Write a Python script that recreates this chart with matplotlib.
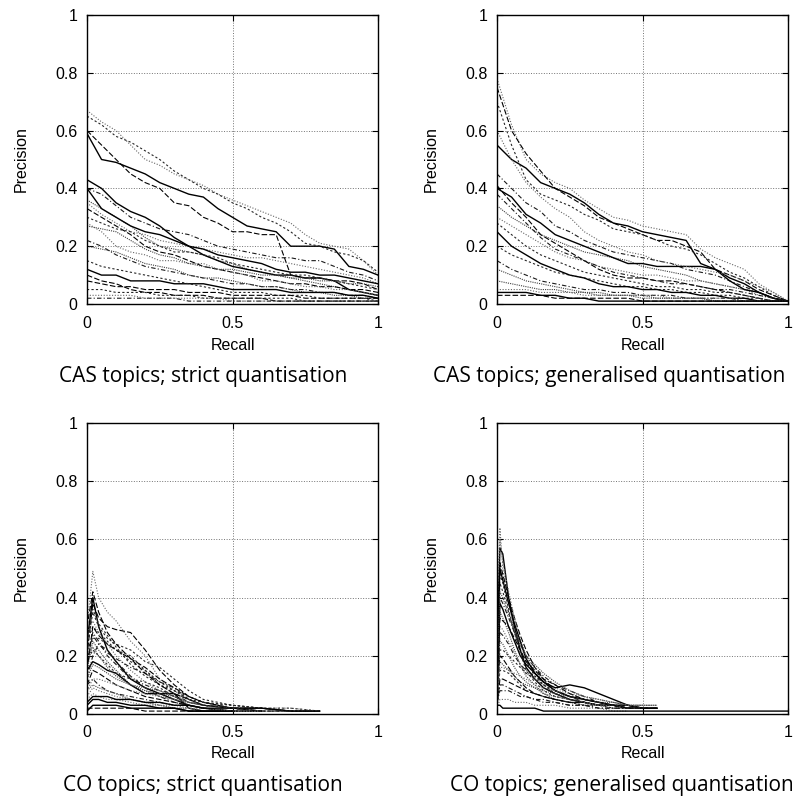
import numpy as np
import matplotlib
matplotlib.use("Agg")
import matplotlib.pyplot as plt

nan = np.nan

# Recall grids (one per panel)
cas_recall = [0, .05, .10, .15, .20, .25, .30, .35, .40, .45, .50,
              .55, .60, .65, .70, .75, .80, .85, .90, .95, 1.0]
co_strict_recall = [0, .02, .04, .07, .10, .15, .20, .25, .30, .35, .40, .50, .60, .70, .80]
co_gen_recall = [0, .01, .02, .04, .06, .08, .10, .13, .16, .20, .25, .30, .35, .40, .45, .50, .55, 1.0]

# CAS topics; strict quantisation
cas_strict_prec = [
    [.67, .63, .60, .55, .50, .48, .45, .43, .41, .38, .36, .34, .32, .30, .28, .24, .21, .20, .19, .15, .10],
    [.59, .50, .49, .47, .45, .42, .40, .38, .37, .33, .30, .27, .26, .25, .20, .20, .20, .19, .13, .12, .10],
    [.60, .55, .50, .45, .42, .40, .35, .34, .30, .28, .25, .25, .24, .24, .10, .09, .09, .08, .08, .07, .05],
    [.65, .62, .58, .56, .53, .50, .46, .43, .40, .38, .35, .33, .30, .28, .25, .21, .20, .18, .17, .15, .11],
    [.40, .38, .34, .30, .28, .26, .25, .24, .22, .20, .19, .18, .17, .16, .16, .15, .15, .13, .11, .10, .08],
    [.36, .33, .30, .27, .23, .20, .19, .18, .17, .15, .14, .12, .11, .10, .09, .08, .07, .06, .05, .04, .03],
    [.35, .31, .28, .25, .24, .22, .21, .20, .19, .18, .17, .16, .16, .15, .14, .13, .12, .11, .10, .09, .07],
    [.40, .33, .30, .27, .25, .24, .22, .20, .17, .15, .13, .12, .11, .10, .10, .09, .09, .08, .05, .04, .03],
    [.33, .30, .27, .24, .20, .18, .17, .15, .13, .12, .11, .10, .09, .08, .07, .07, .06, .06, .05, .05, .04],
    [.30, .28, .26, .25, .22, .20, .18, .18, .17, .16, .14, .13, .12, .11, .10, .10, .09, .08, .07, .06, .05],
    [.22, .20, .17, .15, .13, .12, .11, .10, .09, .08, .07, .07, .06, .06, .05, .05, .04, .04, .03, .03, .02],
    [.20, .19, .18, .16, .14, .13, .12, .10, .09, .09, .08, .07, .06, .06, .05, .04, .04, .03, .03, .02, .02],
    [.28, .25, .20, .18, .17, .15, .15, .14, .14, .12, .11, .10, .08, .08, .07, .06, .06, .05, .05, .04, .03],
    [.12, .10, .10, .08, .08, .08, .07, .07, .07, .06, .05, .05, .05, .05, .04, .04, .04, .04, .03, .03, .02],
    [.10, .08, .07, .05, .04, .04, .03, .03, .03, .02, .02, .02, .02, .01, .01, .01, .01, .01, .01, .01, .01],
    [.15, .13, .12, .11, .10, .09, .08, .07, .06, .05, .04, .04, .04, .03, .03, .03, .02, .02, .02, .02, .01],
    [.02, .02, .02, .02, .02, .02, .02, .01, .01, .01, .01, .01, .01, .01, .01, .01, .01, .01, .01, .01, .01],
    [.27, .26, .25, .22, .19, .17, .16, .14, .13, .12, .12, .11, .10, .10, .09, .09, .08, .08, .07, .07, .06],
    [.03, .03, .03, .03, .02, .02, .02, .02, .02, .02, .01, .01, .01, .01, .01, .01, .01, .01, .01, .01, .01],
    [.43, .40, .35, .32, .30, .27, .23, .20, .19, .17, .16, .15, .14, .12, .11, .11, .10, .10, .09, .08, .07],
    [.08, .07, .06, .06, .05, .05, .05, .04, .04, .04, .03, .03, .03, .03, .03, .02, .02, .02, .02, .02, .02],
    [.05, .05, .04, .04, .04, .03, .03, .03, .02, .02, .02, .02, .02, .02, .02, .01, .01, .01, .01, .01, .01],
]

# CAS topics; generalised quantisation
cas_gen_prec = [
    [.78, .62, .50, .45, .42, .40, .36, .33, .30, .29, .27, .26, .25, .24, .19, .16, .14, .12, .07, .04, .01],
    [.55, .50, .47, .42, .40, .38, .35, .31, .28, .27, .25, .24, .23, .22, .14, .12, .09, .07, .04, .02, .01],
    [.75, .60, .52, .46, .40, .37, .34, .30, .28, .26, .24, .22, .22, .20, .18, .12, .10, .08, .05, .03, .01],
    [.70, .55, .43, .38, .36, .34, .31, .29, .26, .25, .24, .22, .20, .19, .17, .14, .11, .09, .06, .03, .01],
    [.45, .40, .35, .32, .27, .25, .22, .20, .18, .17, .16, .15, .14, .12, .11, .10, .08, .06, .04, .02, .01],
    [.34, .30, .27, .24, .22, .20, .18, .17, .16, .15, .13, .12, .11, .10, .08, .07, .06, .05, .04, .02, .01],
    [.30, .27, .24, .21, .18, .16, .15, .13, .12, .11, .10, .10, .09, .08, .08, .07, .06, .05, .03, .02, .01],
    [.40, .37, .31, .28, .24, .22, .20, .18, .16, .14, .14, .13, .13, .13, .13, .12, .08, .05, .04, .02, .01],
    [.41, .35, .30, .24, .21, .18, .15, .12, .10, .09, .09, .08, .08, .07, .06, .05, .04, .03, .02, .01, .01],
    [.20, .17, .15, .13, .11, .10, .09, .08, .07, .06, .06, .05, .05, .04, .04, .03, .03, .02, .02, .01, .01],
    [.38, .33, .28, .23, .19, .17, .15, .13, .11, .10, .09, .08, .07, .07, .06, .05, .05, .04, .03, .02, .01],
    [.12, .10, .08, .07, .06, .05, .04, .04, .03, .03, .03, .02, .02, .02, .02, .01, .01, .01, .01, .01, .01],
    [.60, .50, .42, .37, .33, .30, .25, .22, .20, .18, .17, .15, .14, .13, .12, .11, .10, .08, .06, .04, .01],
    [.25, .20, .17, .14, .12, .10, .09, .07, .06, .06, .05, .05, .04, .04, .03, .03, .02, .02, .01, .01, .01],
    [.03, .03, .03, .03, .02, .02, .02, .02, .02, .02, .01, .01, .01, .01, .01, .01, .01, .01, .01, .01, .01],
    [.28, .24, .20, .17, .15, .13, .11, .10, .09, .08, .07, .06, .06, .05, .05, .04, .04, .03, .02, .01, .01],
    [.15, .12, .10, .08, .07, .06, .05, .05, .04, .04, .03, .03, .03, .02, .02, .02, .02, .01, .01, .01, .01],
    [.08, .07, .06, .05, .05, .04, .04, .03, .03, .03, .02, .02, .02, .02, .02, .01, .01, .01, .01, .01, .01],
    [.05, .05, .05, .04, .04, .04, .03, .03, .03, .03, .03, .03, .02, .02, .02, .02, .02, .01, .01, .01, .01],
    [.04, .04, .04, .03, .03, .02, .02, .01, .01, .01, .01, .01, .01, .01, .01, .01, .01, .01, .01, .01, .01],
]

# CO topics; strict quantisation
co_strict_prec = [
    [.30, .49, .40, .35, .32, .25, .20, .12, .08, .05, .03, .02, .01, .01, nan],
    [.25, .40, .30, .22, .18, .12, .09, .07, .05, .03, .02, .01, .01, nan, nan],
    [.20, .38, .33, .30, .29, .28, .22, .15, .10, .06, .04, .02, .01, .01, .01],
    [.25, .30, .28, .25, .22, .18, .15, .10, .08, .06, .04, .03, .02, .01, .01],
    [.20, .28, .25, .20, .17, .12, .10, .08, .07, .04, .03, .02, nan, nan, nan],
    [.15, .25, .22, .18, .15, .10, .08, .06, .05, .04, .03, .02, .01, nan, nan],
    [.28, .32, .28, .24, .20, .15, .11, .08, .06, .04, .03, .02, .01, .01, nan],
    [.15, .18, .17, .15, .14, .10, .07, .07, .07, .02, .01, .01, nan, nan, nan],
    [.10, .15, .14, .12, .10, .08, .06, .05, .04, .03, .02, .01, .01, nan, nan],
    [.22, .35, .30, .26, .24, .22, .18, .16, .12, .08, .05, .03, .02, .01, .01],
    [.10, .12, .10, .08, .07, .06, .05, .04, .03, .03, .02, .01, nan, nan, nan],
    [.08, .10, .09, .08, .07, .05, .04, .03, .02, .02, .01, nan, nan, nan, nan],
    [.05, .07, .06, .05, .05, .04, .03, .03, .02, .02, .01, .01, .01, nan, nan],
    [.03, .05, .05, .04, .04, .03, .03, .02, .02, .01, .01, .01, nan, nan, nan],
    [.02, .02, .02, .02, .02, .02, .01, .01, .01, .01, .01, nan, nan, nan, nan],
    [.18, .22, .20, .17, .14, .12, .11, .09, .06, .04, .03, .02, .01, nan, nan],
    [.12, .20, .24, .22, .18, .13, .09, .06, .04, .03, .02, .01, .01, nan, nan],
    [.20, .23, .20, .16, .13, .10, .09, .08, .06, .03, .02, .01, nan, nan, nan],
    [.06, .09, .08, .07, .06, .05, .04, .03, .03, .02, .02, .01, .01, .01, nan],
    [.01, .03, .03, .03, .03, .02, .02, .02, .02, .01, .01, .01, nan, nan, nan],
    [.15, .30, .27, .24, .22, .19, .16, .12, .09, .06, .04, .02, .02, .01, .01],
    [.25, .36, .31, .27, .23, .17, .13, .10, .07, .05, .04, .03, .02, .02, .01],
    [.18, .27, .24, .21, .19, .16, .14, .11, .09, .05, .03, .02, .02, .01, nan],
    [.12, .17, .16, .14, .12, .10, .08, .07, .06, .04, .03, .02, .02, .01, .01],
    [.08, .12, .12, .11, .10, .08, .07, .06, .05, .04, .03, .02, .02, .02, .01],
    [.04, .06, .06, .06, .05, .05, .04, .04, .03, .03, .02, .02, .02, .01, .01],
    [.30, .42, .35, .28, .24, .19, .14, .10, .07, .05, .03, .02, .01, nan, nan],
    [.22, .26, .26, .24, .22, .20, .15, .11, .08, .05, .03, .02, .01, .01, nan],
]

# CO topics; generalised quantisation
co_gen_prec = [
    [.30, .64, .50, .38, .30, .24, .19, .14, .10, .07, .05, .04, .03, .03, .02, .02, nan, nan],
    [.20, .57, .55, .40, .30, .22, .16, .12, .09, .07, .05, .04, .03, .03, .02, .02, .02, nan],
    [.25, .52, .48, .40, .33, .27, .22, .16, .12, .08, .06, .04, .03, .03, .02, .02, nan, nan],
    [.15, .45, .42, .35, .28, .22, .18, .13, .10, .07, .05, .04, .03, .03, .02, .02, .02, nan],
    [.10, .40, .38, .33, .28, .24, .20, .16, .13, .10, .08, .06, .04, .03, .03, .02, nan, nan],
    [.12, .35, .33, .28, .22, .17, .13, .10, .07, .05, .04, .03, .03, .02, .02, .02, nan, nan],
    [.08, .30, .29, .25, .21, .17, .14, .12, .10, .09, .07, .05, .04, .03, .03, .02, nan, nan],
    [.03, .38, .36, .30, .25, .20, .17, .14, .11, .09, .10, .09, .07, .05, .03, .02, nan, nan],
    [.06, .20, .19, .16, .13, .11, .09, .07, .06, .05, .04, .04, .03, .03, .02, .02, .02, nan],
    [.04, .15, .15, .14, .12, .10, .08, .07, .06, .05, .04, .03, .03, .02, .02, nan, nan, nan],
    [.03, .10, .10, .09, .08, .07, .06, .05, .04, .04, .03, .03, .02, .02, .02, nan, nan, nan],
    [.05, .25, .24, .20, .16, .13, .11, .09, .07, .06, .05, .04, .03, .03, .02, .02, nan, nan],
    [.02, .05, .05, .05, .04, .04, .04, .03, .03, .03, .02, .02, .02, .01, .01, nan, nan, nan],
    [.03, .03, .02, .02, .02, .02, .02, .02, .01, .01, .01, .01, .01, .01, .01, .01, .01, .01],
    [.02, .12, .12, .11, .10, .09, .08, .07, .06, .05, .04, .04, .03, .03, .02, .02, .02, nan],
    [.05, .48, .45, .36, .28, .21, .15, .11, .08, .06, .05, .04, .03, .03, .02, .02, nan, nan],
    [.04, .28, .27, .24, .20, .17, .15, .13, .11, .08, .06, .05, .04, .03, .02, .02, nan, nan],
    [.06, .18, .17, .15, .13, .11, .10, .09, .08, .07, .06, .05, .04, .04, .03, .03, .03, nan],
    [.35, .60, .52, .42, .33, .26, .20, .15, .11, .08, .06, .04, .03, .03, .02, .02, nan, nan],
    [.20, .50, .46, .38, .31, .25, .19, .14, .11, .08, .06, .05, .04, .03, .03, .02, .02, nan],
    [.10, .33, .32, .30, .26, .22, .18, .15, .12, .10, .07, .05, .04, .03, .02, .02, nan, nan],
    [.08, .22, .22, .20, .18, .16, .14, .12, .10, .08, .06, .05, .04, .03, .03, .02, nan, nan],
    [.04, .08, .08, .08, .07, .06, .06, .05, .05, .04, .03, .03, .02, .02, .02, .02, nan, nan],
    [.15, .42, .40, .34, .29, .24, .20, .17, .14, .11, .08, .06, .05, .04, .03, .03, .03, nan],
    [.05, .16, .16, .15, .14, .13, .12, .10, .09, .08, .07, .06, .05, .04, .03, .03, nan, nan],
]

captions = ["CAS topics; strict quantisation", "CAS topics; generalised quantisation",
            "CO topics; strict quantisation", "CO topics; generalised quantisation"]

# gnuplot-like mono line types
line_styles = [
    ((0, (1, 1.5)), "0.4", 0.8),
    ("-", "black", 1.0),
    ((0, (5, 2)), "black", 0.8),
    ((0, (2, 2)), "0.15", 0.8),
    ((0, (4, 2, 1, 2)), "0.1", 0.8),
    ((0, (1, 1)), "0.25", 0.8),
]

fig = plt.figure(figsize=(8.02, 7.99), dpi=100)
W, H = 802, 799

def make_axes(left, top, right, bottom):
    return fig.add_axes([left / W, 1 - bottom / H, (right - left) / W, (bottom - top) / H])

panels = [
    (make_axes(87, 15, 378, 304), cas_recall, cas_strict_prec, -0.118, (203, 377)),
    (make_axes(497, 15, 788, 304), cas_recall, cas_gen_prec, -0.118, (609, 377)),
    (make_axes(87, 423, 378, 714), co_strict_recall, co_strict_prec, -0.11, (203, 785)),
    (make_axes(497, 423, 788, 714), co_gen_recall, co_gen_prec, -0.11, (622, 785)),
]

tick_font = "Liberation Sans"

for i, (ax, rec, prec, xlab_y, cap_xy) in enumerate(panels):
    for j, p in enumerate(prec):
        ls, col, lw = line_styles[j % len(line_styles)]
        ax.plot(rec, p, linestyle=ls, color=col, linewidth=lw)

    ax.set_xlim(0, 1)
    ax.set_ylim(0, 1)
    ax.set_xticks([0, 0.5, 1])
    ax.set_xticklabels(["0", "0.5", "1"], fontname=tick_font)
    ax.set_yticks([0, 0.2, 0.4, 0.6, 0.8, 1])
    ax.set_yticklabels(["0", "0.2", "0.4", "0.6", "0.8", "1"], fontname=tick_font)
    ax.tick_params(direction="in", top=True, right=True, length=4, width=0.8,
                   labelsize=11.5, color="black")
    ax.tick_params(axis="x", pad=9 if i < 2 else 8)
    ax.tick_params(axis="y", pad=7)
    ax.grid(True, linestyle=":", color="0.45", linewidth=0.7)
    for s in ax.spines.values():
        s.set_linewidth(1.0)

    ax.set_xlabel("Recall", fontname=tick_font, fontsize=11.5)
    ax.xaxis.set_label_coords(0.5, xlab_y)
    ax.xaxis.label.set_va("top")
    ax.set_ylabel("Precision", fontname=tick_font, fontsize=11.5)
    ax.yaxis.set_label_coords(-0.2, 0.5)

    fig.text(cap_xy[0] / W, 1 - cap_xy[1] / H, captions[i], ha="center", va="center",
             fontsize=15, family=["Open Sans", "DejaVu Sans"])

fig.savefig("out.png", dpi=100)
